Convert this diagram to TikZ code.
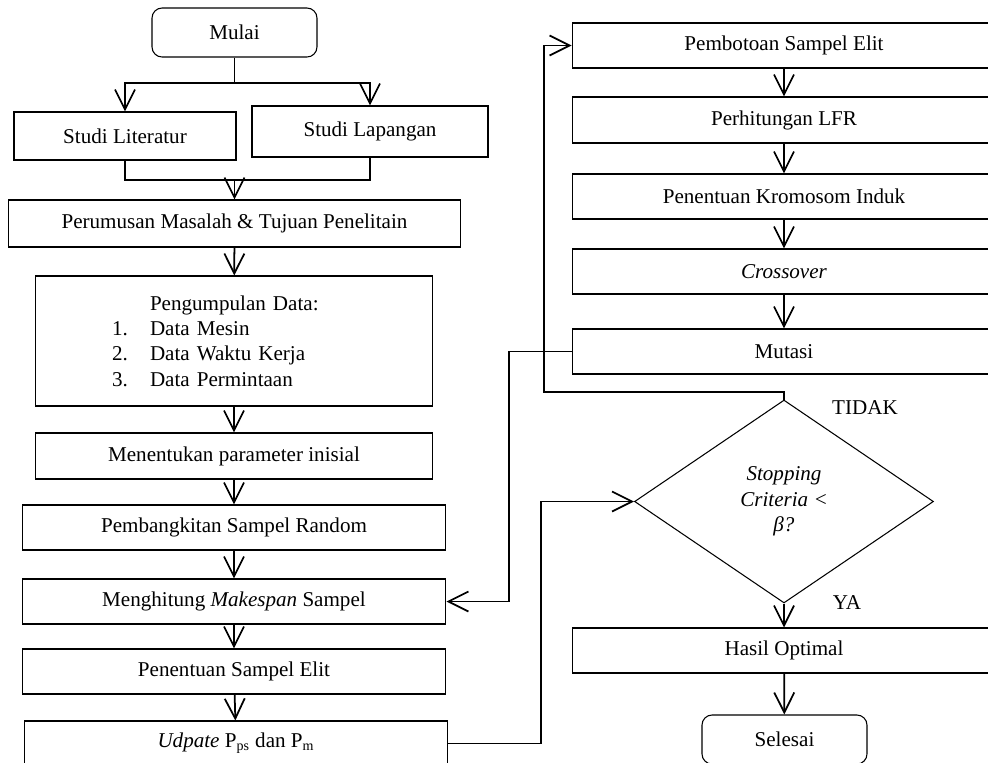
\documentclass[tikz,border=0pt]{standalone}
\usepackage{fontspec}
\setmainfont{Liberation Serif}
\usetikzlibrary{shapes.geometric,arrows.meta}
\tikzset{
  proses/.style={draw, line width=0.6pt, minimum height=0.9cm, inner sep=0pt},
  terminal/.style={proses, rounded corners=0.2cm},
  keputusan/.style={draw, diamond, line width=0.6pt, minimum width=5.98cm, minimum height=4.06cm, inner sep=0pt, align=center},
  garis/.style={line width=1pt},
  panah/.style={garis, -{Straight Barb[length=4mm,width=4mm]}}
}
\begin{document}
\begin{tikzpicture}[x=0.02cm, y=-0.02cm, font=\fontsize{12pt}{14.4pt}\selectfont]
\useasboundingbox (0,0) rectangle (988,762);
% kolom kiri
\node[terminal, minimum width=3.3cm, minimum height=0.98cm] (mulai) at (234.5,32.5) {Mulai};
\node[proses, minimum width=4.44cm, minimum height=0.96cm] (lit) at (125,136) {Studi Literatur};
\node[proses, minimum width=4.72cm, minimum height=1.02cm] (lap) at (370,131.5) {Studi Lapangan};
\node[proses, minimum width=9.06cm, minimum height=0.94cm] (rumus) at (234.5,223.5) {Perumusan Masalah \& Tujuan Penelitain};
\node[proses, minimum height=2.6cm, text width=7.96cm, align=left] (data) at (234,341)
{\hspace*{2.3cm}Pengumpulan Data:\\
 \hspace*{1.54cm}\makebox[0.76cm][l]{1.}Data Mesin\\
 \hspace*{1.54cm}\makebox[0.76cm][l]{2.}Data Waktu Kerja\\
 \hspace*{1.54cm}\makebox[0.76cm][l]{3.}Data Permintaan};
\node[proses, minimum width=7.96cm, minimum height=0.92cm] (param) at (234,456) {Menentukan parameter inisial};
\node[proses, minimum width=8.48cm] (bangkit) at (234,527.5) {Pembangkitan Sampel Random};
\node[proses, minimum width=8.48cm] (hitung) at (234,601.5) {Menghitung \textit{Makespan} Sampel};
\node[proses, minimum width=8.48cm] (elit) at (234,671.5) {Penentuan Sampel Elit};
\node[proses, minimum width=8.48cm] (update) at (236,743.5) {\textit{Udpate} P\textsubscript{ps}\ dan P\textsubscript{m}};

% kolom kanan
\node[proses, minimum width=8.48cm] (bobot) at (784,45.5) {Pembotoan Sampel Elit};
\node[proses, minimum width=8.48cm, minimum height=0.92cm] (lfr) at (784,120) {Perhitungan LFR};
\node[proses, minimum width=8.48cm] (induk) at (784,196.5) {Penentuan Kromosom Induk};
\node[proses, minimum width=8.48cm] (cross) at (784,271.5) {\textit{Crossover}};
\node[proses, minimum width=8.48cm] (mutasi) at (784,351.5) {Mutasi};
\node[keputusan] (cek) at (784,501.5) {\textit{Stopping}\\\textit{Criteria <}\\\textit{β?}};
\node (tidak) at (865,408) {TIDAK};
\node (ya) at (847,603) {YA};
\node[proses, minimum width=8.48cm] (hasil) at (784,650.5) {Hasil Optimal};
\node[terminal, minimum width=3.3cm, minimum height=0.98cm] (selesai) at (784.5,739.5) {Selesai};

% titik belok
\coordinate (j1) at (234.5,83);
\coordinate (j2) at (234.5,180);
\coordinate (c1) at (509,476);
\coordinate (c2) at (544,392);
\coordinate (c3) at (541,620);

% percabangan studi
\draw[garis] (mulai) -- (j1);
\draw[panah] (j1) -| (lit);
\draw[panah] (j1) -| (lap);
\draw[garis] (lit) |- (j2) -| (lap);
\draw[panah] (j2) -- (rumus);

% alur kiri
\draw[panah] (rumus) -- (data);
\draw[panah] (data) -- (param);
\draw[panah] (param) -- (bangkit);
\draw[panah] (bangkit) -- (hitung);
\draw[panah] (hitung) -- (elit);
\draw[panah] (elit) -- (update);

% alur kanan
\draw[panah] (bobot) -- (lfr);
\draw[panah] (lfr) -- (induk);
\draw[panah] (induk) -- (cross);
\draw[panah] (cross) -- (mutasi);
\draw[panah] (cek) -- (hasil);
\draw[panah] (hasil) -- (selesai);

% umpan balik
\draw[panah] (mutasi) -| (c1) |- (hitung);
\draw[panah] (cek.north) |- (c2) |- (bobot);
\draw[panah] (update) -| (c3) |- (cek);
\end{tikzpicture}
\end{document}
